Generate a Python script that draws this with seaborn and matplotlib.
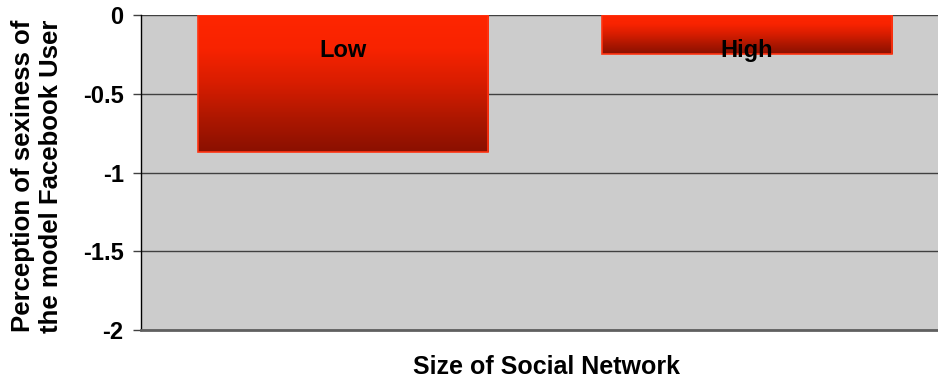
import numpy as np
import pandas as pd
import matplotlib
matplotlib.use("Agg")
import matplotlib.pyplot as plt
from matplotlib.colors import LinearSegmentedColormap
import seaborn as sns

# Data
categories = ["Low", "High"]
values = [-0.87, -0.25]
y_ticks = [0, -0.5, -1, -1.5, -2]
y_tick_labels = ["0", "-0.5", "-1", "-1.5", "-2"]

df = pd.DataFrame({"network": categories, "sexiness": values})

sns.set_theme(style="white")
plt.rcParams["font.family"] = ["Liberation Sans", "DejaVu Sans"]
plt.rcParams["font.weight"] = "bold"
plt.rcParams["text.color"] = "black"
plt.rcParams["ytick.color"] = "black"
plt.rcParams["ytick.labelcolor"] = "black"

fig = plt.figure(figsize=(9.38, 3.83), dpi=100)
W, H = 938, 383
left, right, top, bottom = 141, 949, 15, 330
ax = fig.add_axes([left / W, 1 - bottom / H, (right - left) / W, (bottom - top) / H])
ax.set_facecolor("#cccccc")

sns.barplot(data=df, x="network", y="sexiness", ax=ax, width=0.72,
            color="#ff2200", edgecolor="#ff3311", linewidth=1.2, zorder=3)

ax.set_xlim(-0.5, 1.5)
ax.set_ylim(-2, 0)
ax.set_yticks(y_ticks)
ax.set_yticklabels(y_tick_labels, fontsize=17, fontweight="bold", color="black")
ax.set_xticks([])
ax.grid(axis="y", color="#404040", linewidth=1.0, zorder=1)
ax.set_axisbelow(True)
for side in ["top", "right"]:
    ax.spines[side].set_visible(False)
ax.spines["left"].set_color("#000000")
ax.spines["left"].set_linewidth(1.0)
ax.spines["bottom"].set_color("#606060")
ax.spines["bottom"].set_linewidth(2.0)
ax.tick_params(axis="y", length=5.5, width=1, color="#404040", pad=7, left=True)

# Vertical red gradient inside each bar
grad = LinearSegmentedColormap.from_list("redgrad", ["#ff2600", "#f82300", "#d81d00", "#ae1700", "#8a1000"])
gradient = np.linspace(0, 1, 256).reshape(-1, 1)
for patch in ax.patches:
    x0, y0 = patch.get_x(), patch.get_y()
    w, h = patch.get_width(), patch.get_height()
    ytop, ybot = max(y0, y0 + h), min(y0, y0 + h)
    patch.set_facecolor("none")
    im = ax.imshow(gradient, cmap=grad, aspect="auto",
                   extent=[x0, x0 + w, ybot, ytop], origin="upper", zorder=2.5)
    im.set_clip_path(patch)
ax.set_xlim(-0.5, 1.5)
ax.set_ylim(-2, 0)

# Category labels
for i, cat in enumerate(categories):
    ax.text(i, -0.225, cat, ha="center", va="center", fontsize=17,
            fontweight="bold", color="black", zorder=5)

ax.set_xlabel("")
ax.set_ylabel("")
fig.text(37 / W, 1 - 176 / H, "Perception of sexiness of\nthe model Facebook User",
         rotation=90, ha="center", va="center", fontsize=18.5, fontweight="bold",
         linespacing=1.2, color="black")
fig.text(546 / W, 1 - 367 / H, "Size of Social Network", ha="center", va="center",
         fontsize=18, fontweight="bold", color="black")

fig.savefig("out.png", dpi=100, facecolor="white")
